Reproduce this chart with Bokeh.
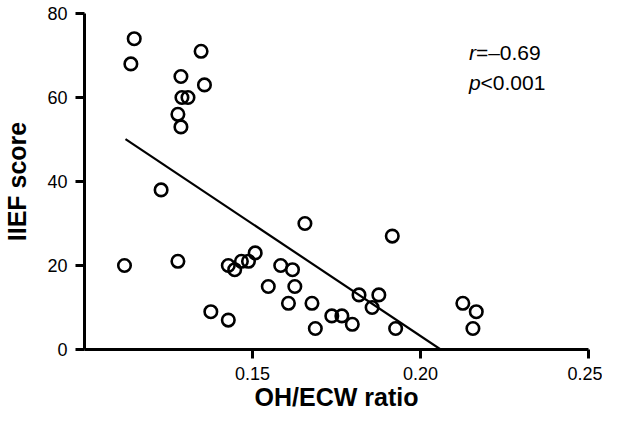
from bokeh.plotting import figure
from bokeh.models import Range1d, FixedTicker, NumeralTickFormatter, Label
from bokeh.embed import file_html
from bokeh.resources import INLINE

# Data
ratio = [0.1148, 0.1138, 0.1347, 0.1287, 0.1357, 0.1290, 0.1308, 0.1278, 0.1287,
         0.1228, 0.1119, 0.1278, 0.1656, 0.1428, 0.1447, 0.1467, 0.1488, 0.1508,
         0.1584, 0.1619, 0.1547, 0.1626, 0.1376, 0.1428, 0.1607, 0.1677, 0.1687,
         0.1736, 0.1766, 0.1797, 0.1817, 0.1876, 0.1856, 0.1916, 0.1926, 0.2126,
         0.2166, 0.2156]
iief = [74, 68, 71, 65, 63, 60, 60, 56, 53,
        38, 20, 21, 30, 20, 19, 21, 21, 23,
        20, 19, 15, 15, 9, 7, 11, 11, 5,
        8, 8, 6, 13, 13, 10, 27, 5, 11,
        9, 5]
fit_x = [0.1122, 0.2060]
fit_y = [50.1, 0.0]
x_ticks = [0.15, 0.20, 0.25]
y_ticks = [0, 20, 40, 60, 80]
r_text = "=\u20130.69"
p_text = "<0.001"

FONT = "Liberation Sans"

p = figure(width=602, height=413, output_backend="svg", toolbar_location=None,
           x_range=Range1d(0.10, 0.25), y_range=Range1d(0, 80),
           min_border_left=80, min_border_right=14, min_border_top=13,
           min_border_bottom=62)
p.outline_line_color = None
p.grid.visible = False
p.background_fill_color = "white"

p.line(fit_x, fit_y, line_color="black", line_width=2.2)
p.scatter(ratio, iief, marker="circle", size=12.5, fill_color=None,
          line_color="black", line_width=2.6)

for ax in (p.xaxis[0], p.yaxis[0]):
    ax.axis_line_color = "black"
    ax.axis_line_width = 3
    ax.major_tick_line_color = "black"
    ax.major_tick_line_width = 3
    ax.major_tick_in = 0
    ax.major_tick_out = 9
    ax.minor_tick_line_color = None
    ax.major_label_text_font = FONT
    ax.major_label_text_font_size = "18px"
    ax.major_label_text_color = "black"
    ax.axis_label_text_font = FONT
    ax.axis_label_text_font_size = "25px"
    ax.axis_label_text_font_style = "bold"
    ax.axis_label_text_color = "black"

p.xaxis[0].ticker = FixedTicker(ticks=x_ticks)
p.xaxis[0].formatter = NumeralTickFormatter(format="0.00")
p.xaxis[0].axis_label = "OH/ECW ratio"
p.xaxis[0].major_label_standoff = 8
p.xaxis[0].axis_label_standoff = 0

p.yaxis[0].ticker = FixedTicker(ticks=y_ticks)
p.yaxis[0].axis_label = "IIEF score"
p.yaxis[0].major_label_standoff = 8
p.yaxis[0].axis_label_standoff = 13

common = dict(text_font=FONT, text_font_size="21px", text_color="black",
              text_baseline="alphabetic")
p.add_layout(Label(x=0.2144, y=70.6, text="r", text_font_style="italic", **common))
p.add_layout(Label(x=0.2144, y=70.6, x_offset=7, text=r_text, **common))
p.add_layout(Label(x=0.2144, y=63.5, text="p", text_font_style="italic", **common))
p.add_layout(Label(x=0.2144, y=63.5, x_offset=11.7, text=p_text, **common))

open("out.html", "w").write(file_html(p, INLINE))
